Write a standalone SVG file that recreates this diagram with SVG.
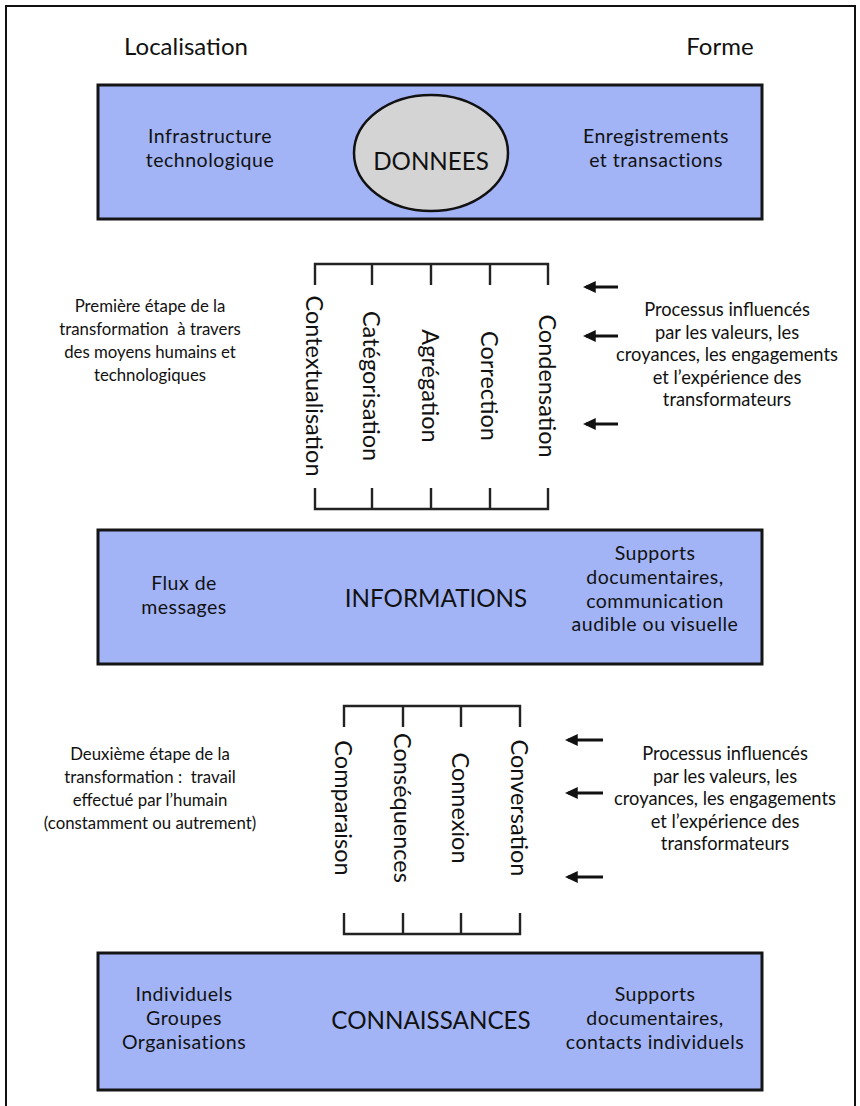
<svg xmlns="http://www.w3.org/2000/svg" width="860" height="1106" viewBox="0 0 860 1106">
<style>
.t{font-family:Lato,"Open Sans","Liberation Sans",sans-serif;fill:#111;text-anchor:middle;white-space:pre}
.l{font-size:16.8px}
.r{font-size:18.3px}
.b{font-size:19.5px;letter-spacing:0.5px}
.h{font-size:24px}
.m{font-size:24.2px}
.v{font-size:23.5px;dominant-baseline:central}
.box{fill:#a2b4f6;stroke:#151515;stroke-width:3}
.br{fill:none;stroke:#222;stroke-width:2.4}
.ar{stroke:#111;stroke-width:3;marker-start:url(#ah)}
</style>
<defs>
<marker id="ah" viewBox="0 0 12 12" refX="3" refY="6" markerWidth="13" markerHeight="13" orient="auto" markerUnits="userSpaceOnUse">
<path d="M0,6 L12,0.5 L12,11.5 Z" fill="#111"/>
</marker>
</defs>
<rect x="0" y="0" width="860" height="1106" fill="#fff"/>
<path d="M6,1106 V6 H855 V1106" fill="none" stroke="#111" stroke-width="2"/>
<text class="t h" x="186" y="55">Localisation</text>
<text class="t h" x="720" y="55">Forme</text>

<g id="donnees">
<rect class="box" x="98" y="85" width="664" height="134"/>
<ellipse cx="431" cy="153" rx="77" ry="58" fill="#d4d4d4" stroke="#111" stroke-width="2.5"/>
<text class="t m" x="431" y="170">DONNEES</text>
<text class="t b" x="210" y="143">Infrastructure</text>
<text class="t b" x="210" y="167">technologique</text>
<text class="t b" x="656" y="143">Enregistrements</text>
<text class="t b" x="656" y="167">et transactions</text>
</g>

<g id="etape1">
<text class="t l" x="150" y="312">Première étape de la</text>
<text class="t l" x="150" y="335">transformation  à travers</text>
<text class="t l" x="150" y="358">des moyens humains et</text>
<text class="t l" x="150" y="381">technologiques</text>
</g>

<g id="processus1">
<text class="t r" x="727" y="316">Processus influencés</text>
<text class="t r" x="727" y="338.5">par les valeurs, les</text>
<text class="t r" x="727" y="361">croyances, les engagements</text>
<text class="t r" x="727" y="383.5">et l’expérience des</text>
<text class="t r" x="727" y="406">transformateurs</text>
</g>

<g id="bracket1">
<path class="br" d="M315,285 V264 H548 V285 M372,264 V285 M431,264 V285 M490,264 V285"/>
<path class="br" d="M315,488 V509 H548 V488 M372,509 V488 M431,509 V488 M490,509 V488"/>
<text class="t v" transform="translate(315,386) rotate(90)">Contextualisation</text>
<text class="t v" transform="translate(372,386) rotate(90)">Catégorisation</text>
<text class="t v" transform="translate(431,386) rotate(90)">Agrégation</text>
<text class="t v" transform="translate(490,386) rotate(90)">Correction</text>
<text class="t v" transform="translate(548,386) rotate(90)">Condensation</text>
</g>

<g id="informations">
<rect class="box" x="98" y="530" width="664" height="134"/>
<text class="t m" x="436" y="607">INFORMATIONS</text>
<text class="t b" x="184" y="590">Flux de</text>
<text class="t b" x="184" y="614">messages</text>
<text class="t b" x="655" y="560">Supports</text>
<text class="t b" x="655" y="584">documentaires,</text>
<text class="t b" x="655" y="607.5">communication</text>
<text class="t b" x="655" y="631">audible ou visuelle</text>
</g>

<g id="etape2">
<text class="t l" x="150" y="760">Deuxième étape de la</text>
<text class="t l" x="150" y="783">transformation :  travail</text>
<text class="t l" x="150" y="806">effectué par l’humain</text>
<text class="t l" x="150" y="829">(constamment ou autrement)</text>
</g>

<g id="processus2">
<text class="t r" x="725" y="760">Processus influencés</text>
<text class="t r" x="725" y="782.5">par les valeurs, les</text>
<text class="t r" x="725" y="805">croyances, les engagements</text>
<text class="t r" x="725" y="827.5">et l’expérience des</text>
<text class="t r" x="725" y="850">transformateurs</text>
</g>

<g id="bracket2">
<path class="br" d="M344,727 V706 H520 V727 M403,706 V727 M461,706 V727"/>
<path class="br" d="M344,913 V934 H520 V913 M403,934 V913 M461,934 V913"/>
<text class="t v" transform="translate(344,808) rotate(90)">Comparaison</text>
<text class="t v" transform="translate(403,808) rotate(90)">Conséquences</text>
<text class="t v" transform="translate(461,808) rotate(90)">Connexion</text>
<text class="t v" transform="translate(520,808) rotate(90)">Conversation</text>
</g>

<g id="connaissances">
<rect class="box" x="98" y="953" width="664" height="137"/>
<text class="t m" x="431" y="1029">CONNAISSANCES</text>
<text class="t b" x="184" y="1001">Individuels</text>
<text class="t b" x="184" y="1025">Groupes</text>
<text class="t b" x="184" y="1049">Organisations</text>
<text class="t b" x="655" y="1001">Supports</text>
<text class="t b" x="655" y="1025">documentaires,</text>
<text class="t b" x="655" y="1049">contacts individuels</text>
</g>

<g id="connectors">
<line class="ar" x1="586" y1="287" x2="618" y2="287"/>
<line class="ar" x1="586" y1="336" x2="618" y2="336"/>
<line class="ar" x1="586" y1="424" x2="618" y2="424"/>
<line class="ar" x1="568" y1="740" x2="603" y2="740"/>
<line class="ar" x1="568" y1="793" x2="603" y2="793"/>
<line class="ar" x1="568" y1="877" x2="603" y2="877"/>
</g>
</svg>
